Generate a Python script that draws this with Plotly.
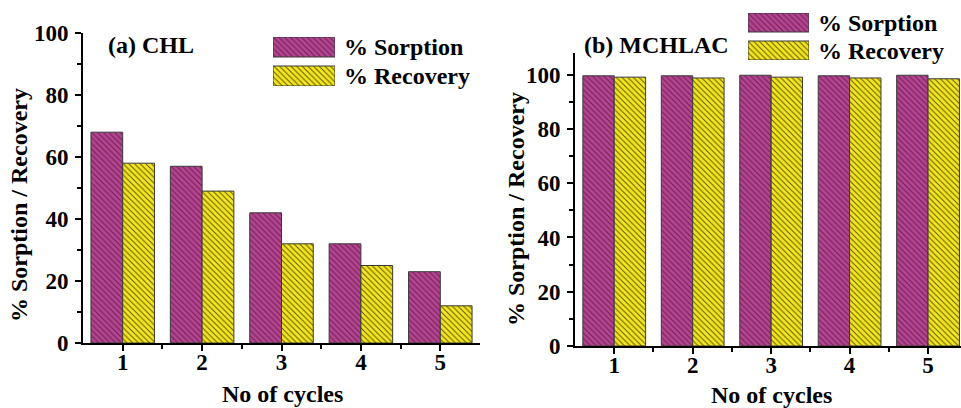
import plotly.graph_objects as go

# Regeneration cycles and measured percentages
cycles = [1, 2, 3, 4, 5]
chl_sorption = [68, 57, 42, 32, 23]
chl_recovery = [58, 49, 32, 25, 12]
mchlac_sorption = [99.6, 99.6, 99.8, 99.6, 99.8]
mchlac_recovery = [99.1, 98.8, 99.1, 98.8, 98.5]

y_ticks = [0, 20, 40, 60, 80, 100]
series_names = ["% Sorption", "% Recovery"]

W, H = 961, 408
FONT = "Liberation Serif, Times New Roman, serif"
MAGENTA = "#b4458f"
MAGENTA_LINE = "#6e1d58"
YELLOW = "#f4e620"
YELLOW_LINE = "#5f5800"
EDGE = "#3a3a3a"


def px_x(p):
    return p / W


def px_y(p):
    return 1 - p / H


def pattern(bg, fg):
    return dict(shape="\\", bgcolor=bg, fgcolor=fg, size=4, solidity=0.25, fillmode="replace")


def bar_marker(bg, fg):
    return dict(color=bg, pattern=pattern(bg, fg), line=dict(color=EDGE, width=1))


fig = go.Figure()

# Panel (a): CHL
fig.add_trace(go.Bar(x=cycles, y=chl_sorption, name=series_names[0], width=0.4, offset=-0.4,
                     marker=bar_marker(MAGENTA, MAGENTA_LINE), xaxis="x", yaxis="y"))
fig.add_trace(go.Bar(x=cycles, y=chl_recovery, name=series_names[1], width=0.4, offset=0,
                     marker=bar_marker(YELLOW, YELLOW_LINE), xaxis="x", yaxis="y"))

# Panel (b): MCHLAC
fig.add_trace(go.Bar(x=cycles, y=mchlac_sorption, name=series_names[0], width=0.4, offset=-0.4,
                     marker=bar_marker(MAGENTA, MAGENTA_LINE), xaxis="x2", yaxis="y2"))
fig.add_trace(go.Bar(x=cycles, y=mchlac_recovery, name=series_names[1], width=0.4, offset=0,
                     marker=bar_marker(YELLOW, YELLOW_LINE), xaxis="x2", yaxis="y2"))

# Legend swatches: large hatched boxes drawn on small hidden axes
legend_boxes = [
    # (xaxis, yaxis, y_top, y_bottom, sorption box bottom, recovery box top)
    ("x3", "y3", 37, 86, 57, 66),
    ("x4", "y4", 13, 60, 32, 41),
]
for xa, ya, yt, yb, s_bot, r_top in legend_boxes:
    span = yb - yt
    s_base = (yb - s_bot) / span
    r_h = (yb - r_top) / span
    fig.add_trace(go.Bar(x=[0.5], y=[1 - s_base], base=[s_base], width=[1],
                         marker=bar_marker(MAGENTA, MAGENTA_LINE),
                         xaxis=xa, yaxis=ya, hoverinfo="skip"))
    fig.add_trace(go.Bar(x=[0.5], y=[r_h], base=[0], width=[1],
                         marker=bar_marker(YELLOW, YELLOW_LINE),
                         xaxis=xa, yaxis=ya, hoverinfo="skip"))

tick_font = dict(family=FONT, size=23, color="black", weight="bold")
common_x = dict(tickmode="array", tickvals=cycles, ticktext=[str(c) for c in cycles],
                ticks="outside", ticklen=6, tickwidth=2, tickcolor="black",
                showline=True, linecolor="black", linewidth=2, showgrid=False, zeroline=False,
                tickfont=tick_font, ticklabelstandoff=-9, automargin=False,
                minor=dict(tickvals=[1.5, 2.5, 3.5, 4.5], ticks="outside", ticklen=4,
                           tickwidth=2, tickcolor="black", showgrid=False),
                fixedrange=True)
common_y = dict(tickmode="array", tickvals=y_ticks, ticktext=[str(v) for v in y_ticks],
                ticks="outside", ticklen=6, tickwidth=2, tickcolor="black",
                showline=True, linecolor="black", linewidth=2, showgrid=False, zeroline=False,
                tickfont=tick_font, ticklabelstandoff=2, automargin=False,
                minor=dict(tickvals=[10, 30, 50, 70, 90], ticks="outside", ticklen=4,
                           tickwidth=2, tickcolor="black", showgrid=False),
                fixedrange=True)

hidden = dict(visible=False, range=[0, 1], fixedrange=True, automargin=False)

fig.update_layout(
    width=W, height=H,
    margin=dict(l=0, r=0, t=0, b=0, autoexpand=False),
    paper_bgcolor="white", plot_bgcolor="white",
    barmode="overlay",
    showlegend=False,
    xaxis=dict(domain=[px_x(83), px_x(480)], range=[0.5, 5.5], anchor="y", **common_x),
    yaxis=dict(domain=[px_y(343), px_y(33)], range=[0, 100], anchor="x", **common_y),
    xaxis2=dict(domain=[px_x(575), 1.0], range=[0.5, 5.42], anchor="y2", **common_x),
    yaxis2=dict(domain=[px_y(346), px_y(53)], range=[0, 108], anchor="x2", **common_y),
    xaxis3=dict(domain=[px_x(273), px_x(335)], anchor="y3", **hidden),
    yaxis3=dict(domain=[px_y(86), px_y(37)], anchor="x3", **hidden),
    xaxis4=dict(domain=[px_x(748), px_x(809)], anchor="y4", **hidden),
    yaxis4=dict(domain=[px_y(60), px_y(13)], anchor="x4", **hidden),
)

label_font = dict(family=FONT, size=24, color="black", weight="bold")
annotations = [
    # panel labels
    dict(text="(a) CHL", x=px_x(106), y=px_y(45), xanchor="left", yanchor="middle"),
    dict(text="(b) MCHLAC", x=px_x(582), y=px_y(45), xanchor="left", yanchor="middle"),
    # legend texts
    dict(text="% Sorption", x=px_x(342), y=px_y(47), xanchor="left", yanchor="middle"),
    dict(text="% Recovery", x=px_x(342), y=px_y(76), xanchor="left", yanchor="middle"),
    dict(text="% Sorption", x=px_x(816), y=px_y(23), xanchor="left", yanchor="middle"),
    dict(text="% Recovery", x=px_x(816), y=px_y(51), xanchor="left", yanchor="middle"),
    # axis titles
    dict(text="No of cycles", x=px_x(282), y=px_y(394), xanchor="center", yanchor="middle"),
    dict(text="No of cycles", x=px_x(771), y=px_y(395), xanchor="center", yanchor="middle"),
    dict(text="% Sorption / Recovery", x=px_x(19), y=px_y(205), textangle=-90,
         xanchor="center", yanchor="middle"),
    dict(text="% Sorption / Recovery", x=px_x(516), y=px_y(209), textangle=-90,
         xanchor="center", yanchor="middle"),
]
for a in annotations:
    a.update(xref="paper", yref="paper", showarrow=False, font=label_font)
fig.update_layout(annotations=annotations)

fig.write_html("out.html")
